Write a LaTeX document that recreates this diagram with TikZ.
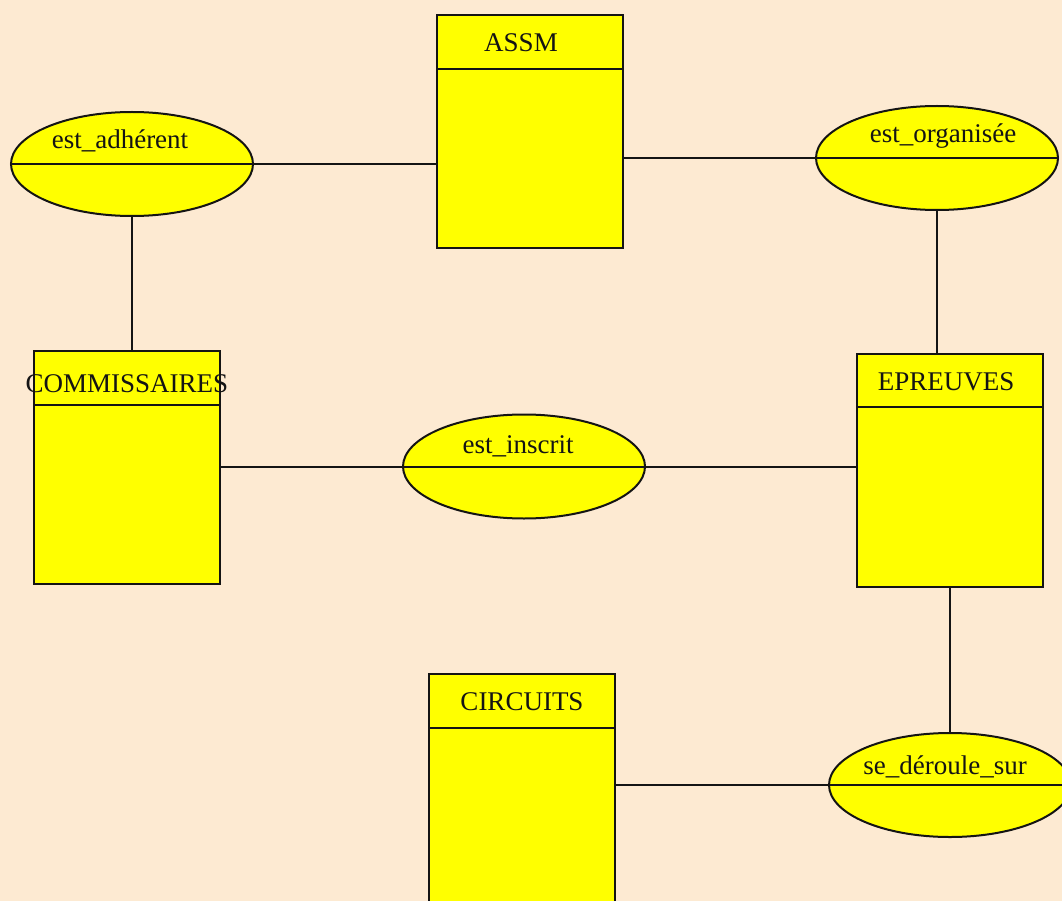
\documentclass[tikz,border=0pt]{standalone}
\usepackage{fontspec}
\setmainfont{Liberation Serif}
\usetikzlibrary{shapes.geometric}
\definecolor{bgcol}{RGB}{253,234,210}
\definecolor{boxyellow}{RGB}{255,255,0}
\definecolor{inkcol}{RGB}{20,20,20}
\tikzset{
  entity/.style={draw=inkcol, fill=boxyellow, line width=2pt, rectangle, inner sep=0pt, minimum width=186pt, minimum height=233pt},
  relation/.style={draw=inkcol, fill=boxyellow, line width=2pt, ellipse, inner sep=0pt, minimum width=242pt, minimum height=104pt},
  lbl/.style={font=\fontsize{27}{31}\selectfont, inner sep=0pt, text=inkcol},
  link/.style={line width=2pt, draw=inkcol},
  divider/.style={line width=2pt, draw=inkcol}
}
\begin{document}
\begin{tikzpicture}[x=1pt, y=-1pt]
\fill[bgcol] (0,0) rectangle (1062,901);
\clip (0,0) rectangle (1062,901);
\useasboundingbox (0,0) rectangle (1062,901);

% entities
\node[entity] (assm) at (529.5,131.5) {};
\draw[divider] (436,69) -- (623,69);
\node[lbl] (tassm) at (521,43) {ASSM};

\node[entity] (comm) at (127,467.5) {};
\draw[divider] (34,405) -- (220,405);
\node[lbl] (tcomm) at (127,384) {COMMISSAIRES};

\node[entity] (epr) at (949.5,470.5) {};
\draw[divider] (857,407) -- (1042,407);
\node[lbl] (tepr) at (946,382) {EPREUVES};

\node[entity] (circ) at (521.5,790.5) {};
\draw[divider] (429,728) -- (614,728);
\node[lbl] (tcirc) at (522,702) {CIRCUITS};

% relations
\node[relation] (adh) at (132,164) {};
\draw[divider] (adh.west) -- (adh.east);
\node[lbl] (tadh) at (120,141) {est\_adhérent};

\node[relation] (org) at (937,158) {};
\draw[divider] (org.west) -- (org.east);
\node[lbl] (torg) at (943,136) {est\_organisée};

\node[relation] (ins) at (524,466.5) {};
\draw[divider] (ins.west) -- (ins.east);
\node[lbl] (tins) at (518,446) {est\_inscrit};

\node[relation] (sed) at (950,785) {};
\draw[divider] (sed.west) -- (sed.east);
\node[lbl] (tsed) at (945,767) {se\_déroule\_sur};

% connectors
\draw[link] (adh.east) -- (adh.east -| assm.west);
\draw[link] (org.west) -- (org.west -| assm.east);
\draw[link] (adh.south) -- (adh.south |- comm.north);
\draw[link] (org.south) -- (org.south |- epr.north);
\draw[link] (ins.west) -- (ins.west -| comm.east);
\draw[link] (ins.east) -- (ins.east -| epr.west);
\draw[link] (sed.north) -- (sed.north |- epr.south);
\draw[link] (sed.west) -- (sed.west -| circ.east);
\end{tikzpicture}
\end{document}
